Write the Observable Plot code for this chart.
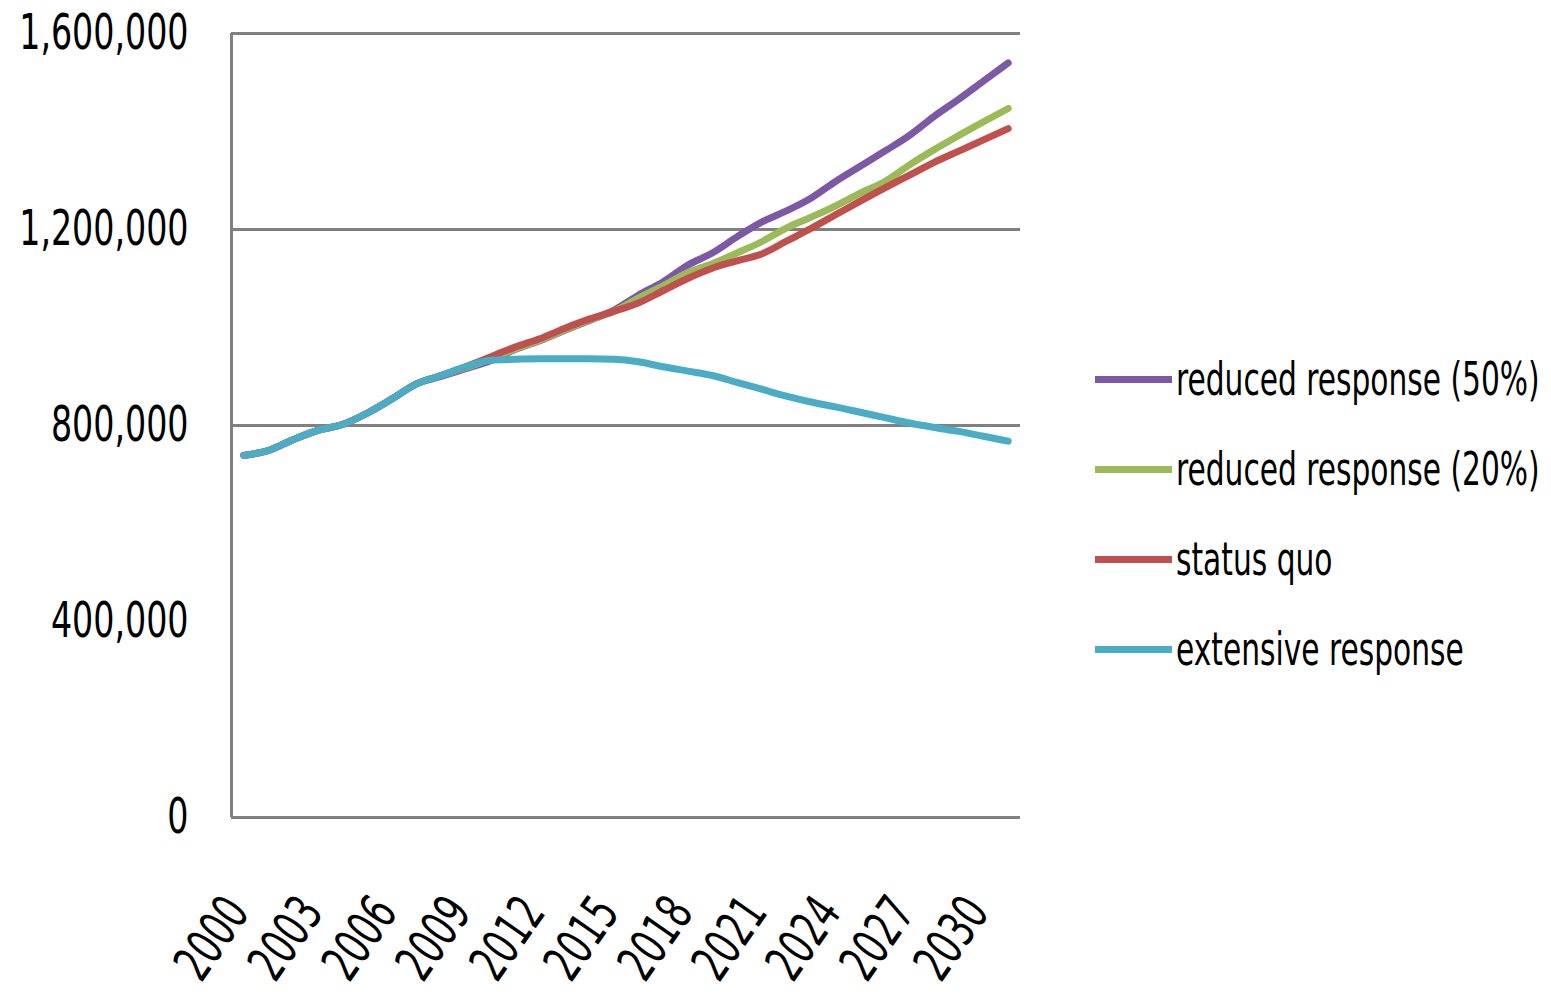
<!DOCTYPE html>
<html>
<head>
<meta charset="utf-8">
<script src="https://cdn.jsdelivr.net/npm/d3@7"></script>
<script src="https://cdn.jsdelivr.net/npm/@observablehq/plot@0.6"></script>
<style>
  body { margin: 0; background: #fff; }
  #wrap { position: relative; width: 1551px; height: 995px; overflow: hidden; }
  #legend { position: absolute; left: 1095px; top: 0; }
  .item { position: absolute; left: 0; height: 40px; display: flex; align-items: center; white-space: nowrap; }
  .sw { width: 77px; height: 7px; flex: none; }
  .lab { display: inline-block; margin-left: 4px; font-family: "DejaVu Sans Condensed", "Liberation Sans Narrow", sans-serif; font-size: 33px; color: #000; transform: scaleY(1.38); }
</style>
</head>
<body>
<div id="wrap"><div id="legend"></div></div>
<script>
// Categories (years)
const years = [2000,2001,2002,2003,2004,2005,2006,2007,2008,2009,2010,2011,2012,2013,2014,2015,
               2016,2017,2018,2019,2020,2021,2022,2023,2024,2025,2026,2027,2028,2029,2030,2031];

// Series values (thousands)
const reduced50 = [739,749,771,790,802,825,854,885,900,916,932,955,973,994,1014,1035,
                   1066,1093,1127,1152,1185,1215,1238,1264,1298,1329,1360,1392,1431,1466,1503,1540];
const reduced20 = [739,749,771,790,802,825,854,885,902,918,936,956,974,995,1015,1033,
                   1060,1085,1112,1130,1152,1175,1203,1225,1248,1274,1298,1332,1363,1392,1420,1447];
const statusQuo = [739,749,771,790,802,825,854,885,902,920,940,960,977,998,1017,1033,
                   1050,1075,1100,1121,1136,1150,1176,1202,1230,1258,1285,1311,1337,1360,1383,1406];
const extensive = [739,749,771,790,802,825,854,885,902,920,933,935,936,936,936,935,
                   930,920,911,902,888,874,860,848,838,827,816,805,796,788,778,768];

const seriesNames = ["reduced response (50%)", "reduced response (20%)", "status quo", "extensive response"];
const seriesValues = [reduced50, reduced20, statusQuo, extensive];
const seriesColors = ["#7D58A5", "#9BBB59", "#C0504D", "#4BACC6"];

// Tick labels
const yTicks = [0, 400000, 800000, 1200000, 1600000];
const gridTicks = [800000, 1200000, 1600000];
const xTicks = [2000,2003,2006,2009,2012,2015,2018,2021,2024,2027,2030];

const data = [];
seriesNames.forEach((name, i) => {
  years.forEach((yr, j) => data.push({year: yr, value: seriesValues[i][j] * 1000, series: name}));
});

const font = '"DejaVu Sans Condensed", "Liberation Sans Narrow", sans-serif';

const chart = Plot.plot({
  width: 1551,
  height: 995,
  marginLeft: 231,
  marginRight: 531,
  marginTop: 33,
  marginBottom: 178,
  style: {background: "white", fontFamily: font, overflow: "visible"},
  x: {domain: [1999.5, 2031.5], axis: null},
  y: {domain: [0, 1600000], axis: null},
  color: {domain: seriesNames, range: seriesColors},
  marks: [
    Plot.ruleY(gridTicks, {stroke: "#808080", strokeWidth: 3}),
    Plot.ruleY([0], {stroke: "#808080", strokeWidth: 3}),
    Plot.ruleX([1999.5], {stroke: "#808080", strokeWidth: 3}),
    Plot.line(data, {x: "year", y: "value", z: "series", stroke: "series", strokeWidth: 7, curve: "monotone-x"}),
    Plot.text(yTicks, {frameAnchor: "left", y: d => d, text: d => d3.format(",")(d),
      textAnchor: "end", dx: -43, fontSize: 37, fill: "black"}),
    Plot.text(xTicks, {x: d => d, frameAnchor: "bottom", text: d => String(d), rotate: -55,
      textAnchor: "end", dx: 7, dy: 95, fontSize: 38, fill: "black"})
  ]
});
document.getElementById("wrap").prepend(chart);

// Stretch the tick labels vertically (the reference uses a tall, narrow face)
const textGroups = d3.select(chart).selectAll('g[aria-label="text"]').nodes();
function stretch(group, s) {
  d3.select(group).selectAll("text").each(function() {
    const t = this.getAttribute("transform") || "";
    this.setAttribute("transform", t + ` scale(1,${s})`);
  });
}
if (textGroups[0]) stretch(textGroups[0], 1.35);
if (textGroups[1]) stretch(textGroups[1], 1.35);

// Legend
const legendY = [379, 469, 559, 649];
const legend = document.getElementById("legend");
seriesNames.forEach((name, i) => {
  const item = document.createElement("div");
  item.className = "item";
  item.style.top = (legendY[i] - 20) + "px";
  const sw = document.createElement("div");
  sw.className = "sw";
  sw.style.background = seriesColors[i];
  const lab = document.createElement("span");
  lab.className = "lab";
  lab.textContent = name;
  item.append(sw, lab);
  legend.append(item);
});
</script>
</body>
</html>
